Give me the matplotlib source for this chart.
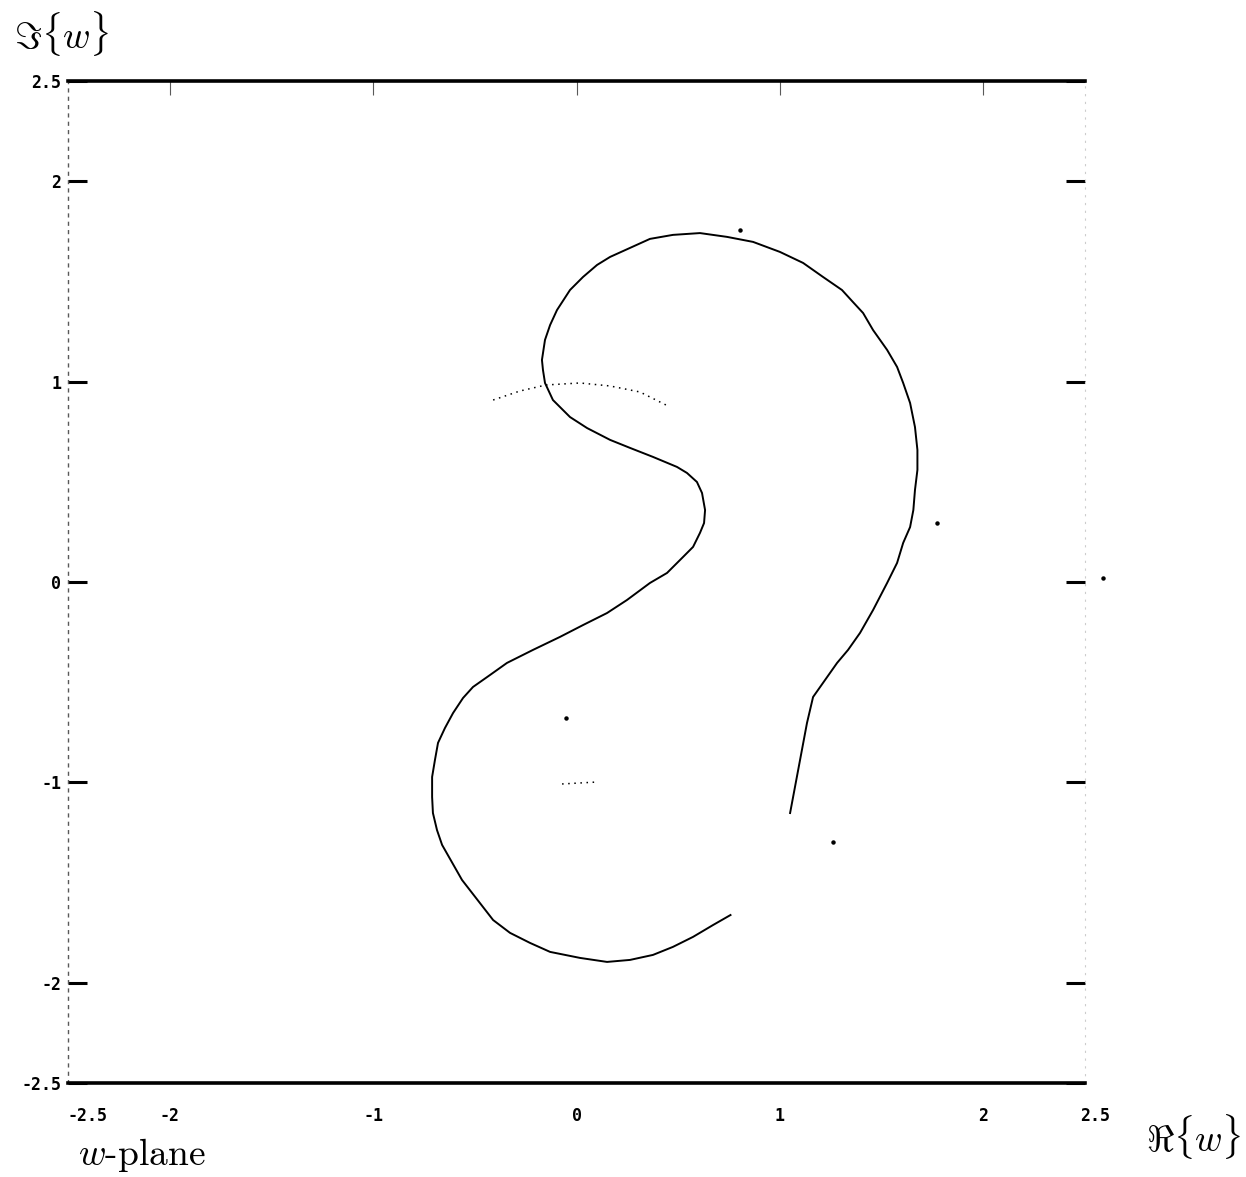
# w-plane image of a closed contour, with the unit circle shown dotted.

from matplotlib import pyplot as plt
from matplotlib import transforms
import numpy as np

plt.rcParams['mathtext.fontset'] = 'cm'

# contour in the w-plane, from the lower right end
# up the right side, over the top, through the S and round the bottom
curve_re = [1.050, 1.099, 1.133, 1.148, 1.163, 1.222, 1.281, 1.335, 1.394, 1.458,
            1.527, 1.576, 1.606, 1.640, 1.656, 1.664, 1.676, 1.676, 1.664, 1.640,
            1.606, 1.576, 1.527, 1.458, 1.409, 1.359, 1.305, 1.212, 1.114, 1.000,
            0.868, 0.740, 0.607, 0.474, 0.361, 0.165, 0.101, 0.032, -0.032, -0.096,
            -0.130, -0.155, -0.170, -0.165, -0.155, -0.116, -0.032, 0.052, 0.165, 0.263,
            0.376, 0.494, 0.543, 0.592, 0.617, 0.632, 0.627, 0.607, 0.573, 0.524,
            0.445, 0.361, 0.248, 0.150, 0.032, -0.081, -0.214, -0.342, -0.425, -0.509,
            -0.558, -0.607, -0.647, -0.681, -0.696, -0.710, -0.710, -0.706, -0.686, -0.661,
            -0.563, -0.410, -0.327, -0.229, -0.130, 0.017, 0.150, 0.263, 0.376, 0.474,
            0.573, 0.671, 0.757]
curve_im = [-1.153, -0.888, -0.704, -0.639, -0.574, -0.489, -0.404, -0.339, -0.254, -0.140,
            -0.005, 0.095, 0.195, 0.274, 0.359, 0.459, 0.559, 0.659, 0.773, 0.893,
            0.993, 1.073, 1.158, 1.257, 1.342, 1.397, 1.457, 1.522, 1.592, 1.647,
            1.697, 1.722, 1.741, 1.732, 1.712, 1.622, 1.582, 1.522, 1.457, 1.357,
            1.282, 1.208, 1.108, 1.058, 0.993, 0.908, 0.823, 0.768, 0.709, 0.669,
            0.624, 0.574, 0.544, 0.499, 0.444, 0.359, 0.294, 0.245, 0.175, 0.125,
            0.045, -0.005, -0.090, -0.155, -0.215, -0.274, -0.339, -0.404, -0.464, -0.524,
            -0.579, -0.654, -0.729, -0.803, -0.888, -0.973, -1.073, -1.153, -1.238, -1.312,
            -1.487, -1.687, -1.751, -1.801, -1.846, -1.876, -1.896, -1.886, -1.861, -1.821,
            -1.771, -1.712, -1.662]

# dotted pieces of the unit circle
circ_top_re = [-0.410, -0.278, -0.150, 0.017, 0.165, 0.312, 0.450]
circ_top_im = [0.908, 0.953, 0.983, 0.993, 0.978, 0.948, 0.878]
circ_bot_re = [-0.071, 0.017, 0.106]
circ_bot_im = [-1.008, -1.003, -0.998]

# stray specks in the scan
speck_re = [-0.052, 1.261, 1.772, 0.804, 2.588]
speck_im = [-0.679, -1.297, 0.294, 1.756, 0.020]

x_ticks = [-2.5, -2, -1, 0, 1, 2, 2.5]
x_labels = ['-2.5', '-2', '-1', '0', '1', '2', '2.5']
y_ticks = [-2.5, -2, -1, 0, 1, 2, 2.5]
y_labels = ['-2.5', '-2', '-1', '0', '1', '2', '2.5']


def main():
    fig = plt.figure(figsize=(12.46, 11.77), dpi=100)
    ax = fig.add_axes([0.0546, 0.0799, 0.8162, 0.8513])

    ax.plot(curve_re, curve_im, color='k', lw=1.4, solid_joinstyle='round')
    ax.plot(circ_top_re, circ_top_im, color='k', lw=1.1, ls=(0, (1, 3)))
    ax.plot(circ_bot_re, circ_bot_im, color='k', lw=1.1, ls=(0, (1, 3)))
    ax.plot(speck_re, speck_im, ls='none', marker='o', ms=2.2, color='k',
            clip_on=False)

    ax.set_xlim(-2.5, 2.5)
    ax.set_ylim(-2.5, 2.5)

    # spines: heavy top/bottom, faint dotted sides
    for s in ('top', 'bottom'):
        ax.spines[s].set_linewidth(2.6)
    ax.spines['left'].set_linestyle((0, (2, 4)))
    ax.spines['left'].set_color('0.35')
    ax.spines['left'].set_linewidth(1.0)
    ax.spines['right'].set_linestyle((0, (1, 6)))
    ax.spines['right'].set_color('0.8')
    ax.spines['right'].set_linewidth(0.8)

    lab_font = dict(family='DejaVu Sans Mono', size=12, weight='bold')

    ax.set_xticks(x_ticks)
    ax.set_xticklabels(x_labels, fontdict=lab_font)
    ax.tick_params(axis='x', bottom=False, top=True, labelbottom=True,
                   direction='in', length=10, width=0.8, color='0.35', pad=17)
    xt = ax.xaxis.get_major_ticks()
    xt[0].tick2line.set_visible(False)
    xt[-1].tick2line.set_visible(False)
    # end labels sit a little to the right in the original
    xl = ax.get_xticklabels()
    xl[0].set_transform(xl[0].get_transform() +
                        transforms.ScaledTranslation(19 / 100, 0, fig.dpi_scale_trans))
    xl[-1].set_transform(xl[-1].get_transform() +
                         transforms.ScaledTranslation(10 / 100, 0, fig.dpi_scale_trans))

    ax.set_yticks(y_ticks)
    ax.set_yticklabels(y_labels, fontdict=lab_font)
    ax.tick_params(axis='y', left=True, right=True, direction='in',
                   length=14, width=2.2, color='k', pad=5)

    fig.text(0.0498, 0.9711, r'$\Im\{w\}$', fontsize=27, ha='center', va='center')
    fig.text(0.9583, 0.0340, r'$\Re\{w\}$', fontsize=27, ha='center', va='center')
    fig.text(0.1140, 0.0187, r'$w$-plane', fontsize=27, family='cmr10',
             ha='center', va='center')

    fig.savefig('out.png', dpi=100)


if __name__ == "__main__":
    main()
